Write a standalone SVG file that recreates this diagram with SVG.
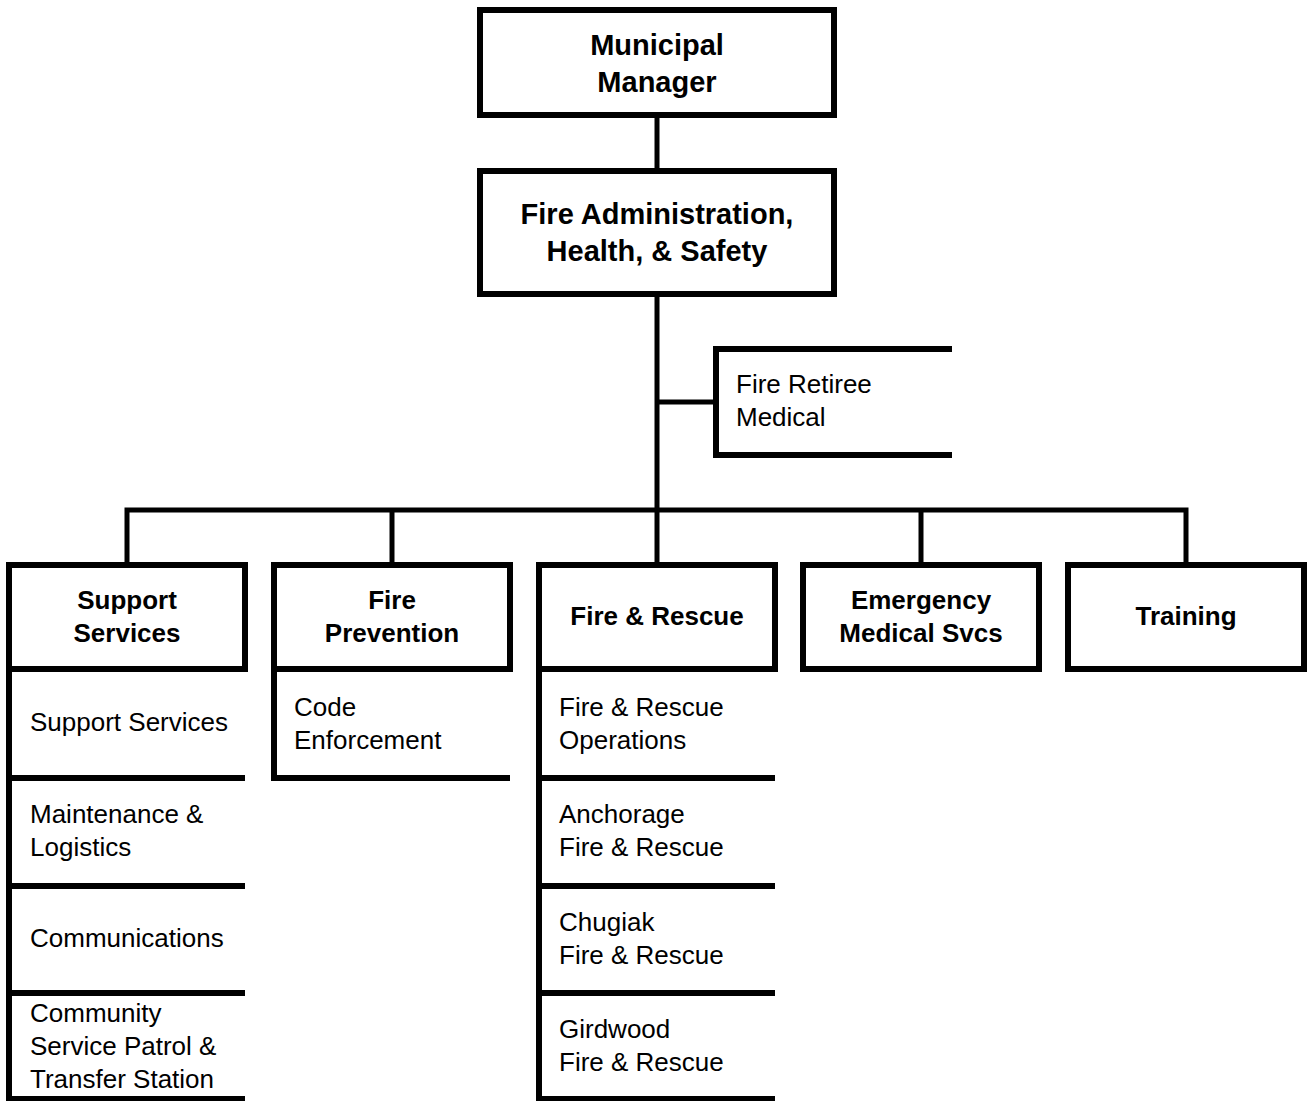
<svg xmlns="http://www.w3.org/2000/svg" width="1307" height="1101" viewBox="0 0 1307 1101">
<style>
.box{fill:#fff;stroke:#000;stroke-width:6}
.open{fill:none;stroke:#000;stroke-width:6;stroke-linecap:butt}
.con{fill:none;stroke:#000;stroke-width:5}
.t1{font-family:"Liberation Sans",Arial,sans-serif;font-weight:bold;font-size:29px;text-anchor:middle;fill:#000}
.t2{font-family:"Liberation Sans",Arial,sans-serif;font-weight:bold;font-size:26px;text-anchor:middle;fill:#000}
.t3{font-family:"Liberation Sans",Arial,sans-serif;font-size:26px;fill:#000}
</style>
<rect width="1307" height="1101" fill="#fff"/>
<g id="connectors">
<path class="con" d="M657,118 V168"/>
<path class="con" d="M657,297 V510"/>
<path class="con" d="M657,402 H716"/>
<path class="con" d="M127,562 V510 H1186 V562"/>
<path class="con" d="M392,510 V562"/>
<path class="con" d="M657,510 V562"/>
<path class="con" d="M921,510 V562"/>
</g>
<g id="municipal-manager">
<rect class="box" x="480" y="10" width="354" height="105"/>
<text class="t1" x="657" y="55">Municipal</text>
<text class="t1" x="657" y="92">Manager</text>
</g>
<g id="fire-administration">
<rect class="box" x="480" y="171" width="354" height="123"/>
<text class="t1" x="657" y="224">Fire Administration,</text>
<text class="t1" x="657" y="261">Health, &amp; Safety</text>
</g>
<g id="fire-retiree-medical">
<path class="open" d="M952,349 H716 V455 H952"/>
<text class="t3" x="736" y="393">Fire Retiree</text>
<text class="t3" x="736" y="426">Medical</text>
</g>
<g id="support-services">
<rect class="box" x="9" y="565" width="236" height="104"/>
<text class="t2" x="127" y="609">Support</text>
<text class="t2" x="127" y="642">Services</text>
</g>
<g id="fire-prevention">
<rect class="box" x="274" y="565" width="236" height="104"/>
<text class="t2" x="392" y="609">Fire</text>
<text class="t2" x="392" y="642">Prevention</text>
</g>
<g id="fire-rescue">
<rect class="box" x="539" y="565" width="236" height="104"/>
<text class="t2" x="657" y="625">Fire &amp; Rescue</text>
</g>
<g id="emergency-medical">
<rect class="box" x="803" y="565" width="236" height="104"/>
<text class="t2" x="921" y="609">Emergency</text>
<text class="t2" x="921" y="642">Medical Svcs</text>
</g>
<g id="training">
<rect class="box" x="1068" y="565" width="236" height="104"/>
<text class="t2" x="1186" y="625">Training</text>
</g>
<g id="ss-support-services">
<path class="open" d="M9,672 V778 H245"/>
<text class="t3" x="30" y="731">Support Services</text>
</g>
<g id="ss-maintenance">
<path class="open" d="M9,778 V886 H245"/>
<text class="t3" x="30" y="823">Maintenance &amp;</text>
<text class="t3" x="30" y="856">Logistics</text>
</g>
<g id="ss-communications">
<path class="open" d="M9,886 V993 H245"/>
<text class="t3" x="30" y="947">Communications</text>
</g>
<g id="ss-community">
<path class="open" d="M9,993 V1101 M6,1099 H245"/>
<text class="t3" x="30" y="1022">Community</text>
<text class="t3" x="30" y="1055">Service Patrol &amp;</text>
<text class="t3" x="30" y="1088">Transfer Station</text>
</g>
<g id="fp-code-enforcement">
<path class="open" d="M274,672 V778 H510"/>
<text class="t3" x="294" y="716">Code</text>
<text class="t3" x="294" y="749">Enforcement</text>
</g>
<g id="fr-operations">
<path class="open" d="M539,672 V778 H775"/>
<text class="t3" x="559" y="716">Fire &amp; Rescue</text>
<text class="t3" x="559" y="749">Operations</text>
</g>
<g id="fr-anchorage">
<path class="open" d="M539,778 V886 H775"/>
<text class="t3" x="559" y="823">Anchorage</text>
<text class="t3" x="559" y="856">Fire &amp; Rescue</text>
</g>
<g id="fr-chugiak">
<path class="open" d="M539,886 V993 H775"/>
<text class="t3" x="559" y="931">Chugiak</text>
<text class="t3" x="559" y="964">Fire &amp; Rescue</text>
</g>
<g id="fr-girdwood">
<path class="open" d="M539,993 V1101 M536,1099 H775"/>
<text class="t3" x="559" y="1038">Girdwood</text>
<text class="t3" x="559" y="1071">Fire &amp; Rescue</text>
</g>
</svg>
